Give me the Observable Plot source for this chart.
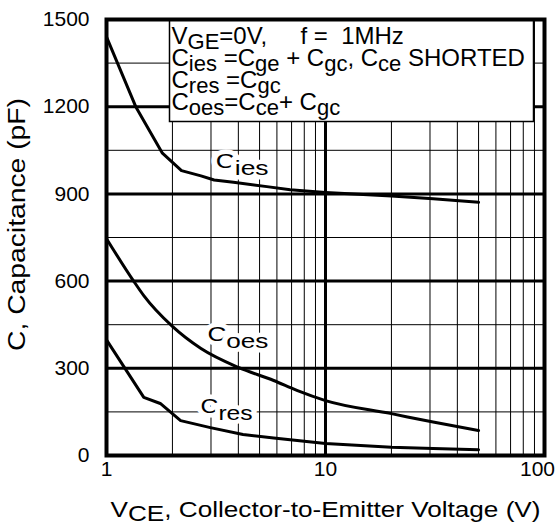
<!DOCTYPE html>
<html><head><meta charset="utf-8">
<script src="https://cdn.jsdelivr.net/npm/d3@7"></script>
<script src="https://cdn.jsdelivr.net/npm/@observablehq/plot@0.6"></script>
<style>body{margin:0;background:#fff}</style>
</head><body><div id="chart"></div>
<script>
// ---- data ----
const ciesV = [1, 1.36, 1.8, 2.2, 2.7, 3.1, 3.8, 5.4, 6.9, 10, 20, 31, 50];
const ciesC = [1440, 1200, 1040, 980, 962, 948, 940, 925, 914, 905, 893, 883, 871];
const coesV = [1, 1.33, 1.48, 2.0, 2.7, 4.0, 5.8, 7.4, 10, 20, 31, 50];
const coesC = [746, 600, 550, 444, 368, 303, 258, 224, 189, 144, 115, 86];
const cresV = [1, 1.48, 1.76, 2.18, 2.98, 4.2, 5.8, 10, 20, 31, 50];
const cresC = [398, 200, 179, 120, 96, 72, 60, 41, 28, 24, 20];

const labelNames = ["C_{ies}", "C_{oes}", "C_{res}"];
const labelV = [3.15, 2.89, 2.69];
const labelC = [1013, 416, 168];

const xTicks = [1, 10, 100];
const yTicks = [0, 300, 600, 900, 1200, 1500];
const xMinorGrid = [2, 3, 4, 5, 6, 7, 8, 9, 20, 30, 40, 50, 60, 70, 80, 90];
const xMajorGrid = [10];
const yMinorGrid = [150, 450, 750, 1050, 1350];
const yMajorGrid = [300, 600, 900, 1200];

const legendLines = [
  "V_{GE}=0V,\u00a0\u00a0\u00a0\u00a0\u00a0f = \u00a01MHz",
  "C_{ies} =C_{ge} + C_{gc}, C_{ce} SHORTED",
  "C_{res} =C_{gc}",
  "C_{oes}=C_{ce}+ C_{gc}"
];
const xTitle = "V_{CE}, Collector-to-Emitter Voltage (V)";
const yTitle = "C, Capacitance (pF)";

// ---- tables built from the arrays ----
const ciesRows = ciesV.map((v, i) => ({name: "Cies", v, c: ciesC[i]}));
const coesRows = coesV.map((v, i) => ({name: "Coes", v, c: coesC[i]}));
const cresRows = cresV.map((v, i) => ({name: "Cres", v, c: cresC[i]}));
const labels = labelNames.map((name, i) => ({name, v: labelV[i], c: labelC[i]}));

const font = "'Liberation Sans', Arial, Helvetica, sans-serif";
const curveStyle = {x: "v", y: "c", stroke: "black", strokeWidth: 3, strokeLinejoin: "round"};

const chart = Plot.plot({
  width: 560, height: 523,
  marginLeft: 106, marginRight: 16, marginTop: 19, marginBottom: 68,
  x: {type: "log", domain: [1, 100], axis: null},
  y: {domain: [0, 1500], axis: null},
  style: {fontFamily: font, fontSize: "21px", color: "black", background: "white", overflow: "visible"},
  marks: [
    Plot.ruleY(yMinorGrid, {stroke: "black", strokeWidth: 1}),
    Plot.ruleX(xMinorGrid, {stroke: "black", strokeWidth: 1}),
    Plot.ruleY(yMajorGrid, {stroke: "black", strokeWidth: 3}),
    Plot.ruleX(xMajorGrid, {stroke: "black", strokeWidth: 3}),
    Plot.text(labels, {x: "v", y: "c", text: "name", textAnchor: "start", lineAnchor: "middle", fontSize: 21,
      fill: "black", stroke: "white", strokeWidth: 9, ariaDescription: "curve-labels"}),
    Plot.line(ciesRows, {...curveStyle, curve: "linear"}),
    Plot.line(coesRows, {...curveStyle, curve: "monotone-x"}),
    Plot.line(cresRows, {...curveStyle, curve: "linear"}),
    Plot.frame({fill: "white", stroke: "black", strokeWidth: 1.5, insetLeft: 63, insetRight: 11, insetBottom: 334}),
    Plot.text([legendLines.join("\n")], {frameAnchor: "top-left", textAnchor: "start", lineAnchor: "top",
      dx: 65, dy: 9, fontSize: 24, lineHeight: 0.92, fill: "black", ariaDescription: "legend"}),
    Plot.frame({stroke: "black", strokeWidth: 4}),
    Plot.text(yTicks, {frameAnchor: "left", y: d => d, text: d => String(d), textAnchor: "end", lineAnchor: "middle", dx: -17, fontSize: 21, fill: "black"}),
    Plot.text(xTicks.slice(0, 2), {x: d => d, text: d => String(d), frameAnchor: "bottom", textAnchor: "middle", lineAnchor: "top", dy: 6, fontSize: 21, fill: "black"}),
    Plot.text(xTicks.slice(2), {x: d => d, text: d => String(d), frameAnchor: "bottom", textAnchor: "middle", lineAnchor: "top", dy: 6, dx: -7, fontSize: 21, fill: "black"}),
    Plot.text([xTitle], {frameAnchor: "bottom", textAnchor: "middle", lineAnchor: "middle", dy: 54, fontSize: 22, fill: "black", ariaDescription: "xtitle"}),
    Plot.text([yTitle], {frameAnchor: "left", textAnchor: "middle", lineAnchor: "middle", rotate: -90, dx: -89, dy: -13, fontSize: 23, fill: "black", ariaDescription: "ytitle"})
  ]
});
document.getElementById("chart").append(chart);

// ---- subscript rendering: "X_{sub}" -> tspans ----
const NS = "http://www.w3.org/2000/svg";
function rich(el, shift, subSize) {
  const s = el.textContent;
  if (!s.includes("_{")) return;
  while (el.firstChild) el.removeChild(el.firstChild);
  const re = /_\{([^}]*)\}/g;
  let last = 0, m, down = false;
  const add = (txt, sub) => {
    if (!txt) return;
    const t = document.createElementNS(NS, "tspan");
    if (sub && !down) { t.setAttribute("dy", shift); down = true; }
    else if (!sub && down) { t.setAttribute("dy", -shift); down = false; }
    if (sub) t.setAttribute("font-size", subSize);
    t.textContent = txt;
    el.appendChild(t);
  };
  while ((m = re.exec(s))) { add(s.slice(last, m.index), false); add(m[1], true); last = re.lastIndex; }
  add(s.slice(last), false);
  if (down) {
    const t = document.createElementNS(NS, "tspan");
    t.setAttribute("dy", -shift); t.textContent = "\u200b"; el.appendChild(t);
  }
}
function richGroup(desc, shift, subSize) {
  d3.select(chart).selectAll(`g[aria-description="${desc}"] text`).each(function () {
    const lines = this.querySelectorAll("tspan");
    if (lines.length) lines.forEach(l => rich(l, shift, subSize));
    else rich(this, shift, subSize);
  });
}
richGroup("legend", 5, 22);
richGroup("curve-labels", 7, 21);
richGroup("xtitle", 4, 22);

// horizontal stretch of the wide-set titles/labels
const stretch = (desc, lens) => d3.select(chart).selectAll(`g[aria-description="${desc}"] text`)
  .each(function (d, i) { this.setAttribute("textLength", lens[i]); this.setAttribute("lengthAdjust", "spacingAndGlyphs"); });
stretch("xtitle", [430]);
stretch("ytitle", [253]);
stretch("curve-labels", [53, 61, 52]);
</script>
</body></html>
